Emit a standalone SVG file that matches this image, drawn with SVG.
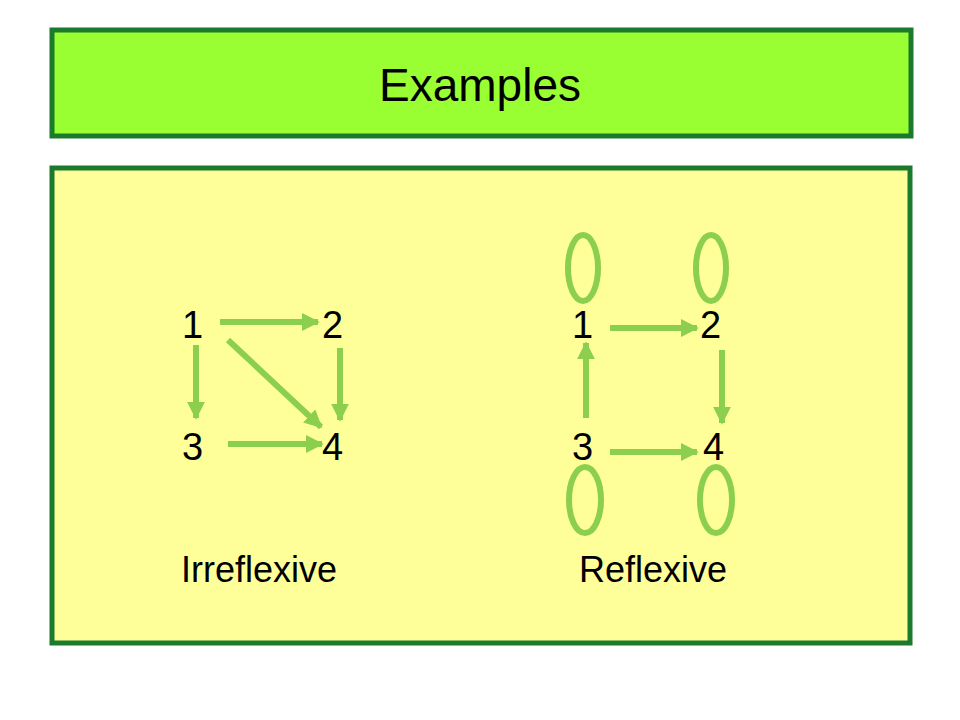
<svg xmlns="http://www.w3.org/2000/svg" width="960" height="720" viewBox="0 0 960 720">
<defs>
<marker id="ah" viewBox="0 0 10 10" refX="9" refY="5" markerWidth="3" markerHeight="3" orient="auto" markerUnits="strokeWidth"><path d="M0,0L10,5L0,10z" fill="#8ccf4f"/></marker>
<style>
text{font-family:"Liberation Sans",Arial,sans-serif;fill:#000}
.n{font-size:38px}
.e{stroke:#8ccf4f;stroke-width:6;fill:none;marker-end:url(#ah)}
.l{stroke:#8ccf4f;stroke-width:6;fill:none}
</style>
</defs>
<rect width="960" height="720" fill="#fff"/>
<g id="title"><rect x="52" y="30" width="859" height="106" fill="#99ff33" stroke="#1b7a2c" stroke-width="5"/>
<text x="480" y="101" font-size="46" text-anchor="middle">Examples</text></g>
<g id="panel"><rect x="52" y="168" width="858" height="475" fill="#ffff99" stroke="#1b7a2c" stroke-width="5"/></g>
<g id="nodes">
<g id="L1"><text class="n" x="182" y="338">1</text></g>
<g id="L2"><text class="n" x="322" y="338">2</text></g>
<g id="L3"><text class="n" x="182" y="460">3</text></g>
<g id="L4"><text class="n" x="322" y="460">4</text></g>
<g id="R1"><text class="n" x="572" y="338">1</text></g>
<g id="R2"><text class="n" x="700" y="338">2</text></g>
<g id="R3"><text class="n" x="572" y="460">3</text></g>
<g id="R4"><text class="n" x="703" y="460">4</text></g>
<g id="labels"><text x="181" y="582" font-size="36">Irreflexive</text><text x="579" y="582" font-size="36">Reflexive</text></g>
</g>
<g id="connectors">
<line class="e" x1="220" y1="322" x2="318" y2="322"/>
<line class="e" x1="196" y1="345" x2="196" y2="418"/>
<line class="e" x1="340" y1="348" x2="340" y2="420"/>
<line class="e" x1="228" y1="340" x2="321" y2="427"/>
<line class="e" x1="228" y1="444" x2="322" y2="444"/>
<line class="e" x1="610" y1="328" x2="697" y2="328"/>
<line class="e" x1="586" y1="418" x2="586" y2="343"/>
<line class="e" x1="722" y1="350" x2="722" y2="423"/>
<line class="e" x1="610" y1="452" x2="697" y2="452"/>
<ellipse class="l" cx="583" cy="268" rx="15" ry="33"/>
<ellipse class="l" cx="711" cy="268" rx="15" ry="33"/>
<ellipse class="l" cx="585" cy="500" rx="16" ry="33"/>
<ellipse class="l" cx="716" cy="500" rx="16" ry="33"/>
</g>
</svg>
